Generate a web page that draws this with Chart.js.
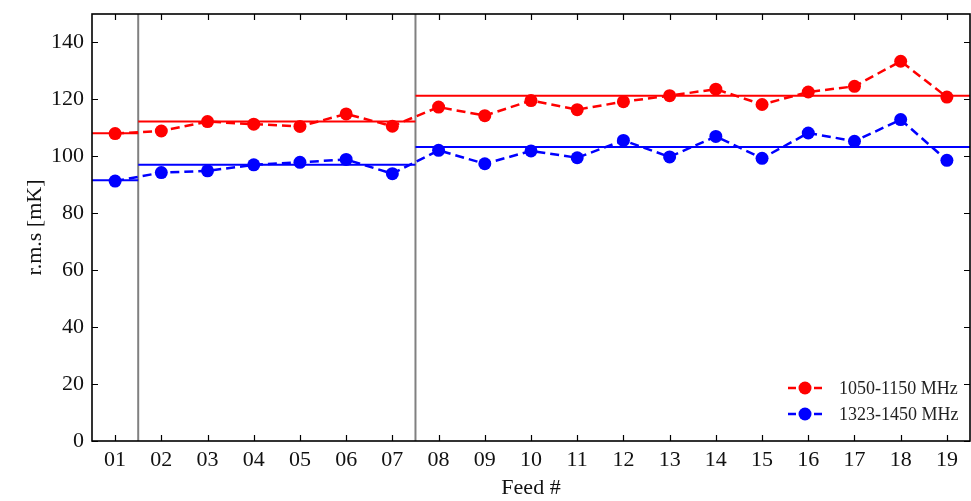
<!DOCTYPE html>
<html>
<head>
<meta charset="utf-8">
<script src="https://cdn.jsdelivr.net/npm/chart.js@4.4.0/dist/chart.umd.min.js"></script>
<style>
  html, body { margin: 0; padding: 0; background: #fff; }
  #wrap { width: 971px; height: 501px; }
</style>
</head>
<body>
<div id="wrap"><canvas id="chartCanvas" width="971" height="501"></canvas></div>
<script>
// feed labels on the x axis
const feeds = ["01","02","03","04","05","06","07","08","09","10","11","12","13","14","15","16","17","18","19"];
// r.m.s per feed [mK]
const rms1050 = [108.0, 108.9, 112.2, 111.3, 110.5, 114.9, 110.6, 117.3, 114.3, 119.6, 116.4, 119.2, 121.3, 123.6, 118.2, 122.6, 124.6, 133.4, 120.8];
const rms1323 = [91.3, 94.3, 94.9, 97.0, 97.9, 98.9, 93.9, 102.1, 97.4, 101.9, 99.5, 105.6, 99.8, 107.0, 99.3, 108.2, 105.3, 112.9, 98.6];
// feed groups (edges in feed units) and their mean levels
const groupEdges = [0.5, 1.5, 7.5, 19.5];
const level1050 = [108.1, 112.2, 121.3];
const level1323 = [91.6, 97.0, 103.3];
const yTicks = [0, 20, 40, 60, 80, 100, 120, 140];
const seriesNames = ["1050-1150 MHz", "1323-1450 MHz"];

const RED = "#ff0000", BLUE = "#0000ff", GRAY = "#808080";
const FONT = "'Liberation Serif', 'DejaVu Serif', serif";

function levelPoints(levels) {
  const pts = [];
  levels.forEach((v, i) => {
    pts.push({ x: groupEdges[i], y: v });
    pts.push({ x: groupEdges[i + 1], y: v });
    pts.push({ x: groupEdges[i + 1], y: null });
  });
  return pts;
}

function dividerPoints() {
  const pts = [];
  groupEdges.slice(1, -1).forEach(e => {
    pts.push({ x: e, y: 0 });
    pts.push({ x: e, y: 150 });
    pts.push({ x: e, y: null });
  });
  return pts;
}

// no label overflow padding, so the plot box sits where the layout says
function noPad(s) {
  s.paddingLeft = 0; s.paddingRight = 0; s.paddingTop = 0; s.paddingBottom = 0;
}

const framePlugin = {
  id: "frame",
  afterDatasetsDraw(chart) {
    const { ctx, chartArea: a, scales } = chart;
    const L = 6;
    ctx.save();
    ctx.strokeStyle = "#000";
    ctx.lineWidth = 1.2;
    ctx.beginPath();
    feeds.forEach((f, i) => {
      const x = Math.round(scales.x.getPixelForValue(i + 1)) + 0.5;
      ctx.moveTo(x, a.bottom); ctx.lineTo(x, a.bottom - L);
      ctx.moveTo(x, a.top); ctx.lineTo(x, a.top + L);
    });
    yTicks.forEach(v => {
      const y = Math.round(scales.y.getPixelForValue(v)) + 0.5;
      ctx.moveTo(a.left, y); ctx.lineTo(a.left + L, y);
      ctx.moveTo(a.right, y); ctx.lineTo(a.right - L, y);
    });
    ctx.stroke();
    ctx.lineWidth = 1.6;
    ctx.strokeRect(a.left, a.top, a.right - a.left, a.bottom - a.top);

    // legend, lower right inside the axes
    const colors = [RED, BLUE];
    seriesNames.forEach((name, i) => {
      const cx = a.right - 165, cy = a.bottom - 53 + i * 26;
      ctx.strokeStyle = colors[i];
      ctx.fillStyle = colors[i];
      ctx.lineWidth = 2.5;
      ctx.setLineDash([8, 5]);
      ctx.beginPath();
      ctx.moveTo(cx - 17, cy); ctx.lineTo(cx + 18, cy);
      ctx.stroke();
      ctx.setLineDash([]);
      ctx.beginPath();
      ctx.arc(cx, cy, 6.5, 0, Math.PI * 2);
      ctx.fill();
      ctx.fillStyle = "#222";
      ctx.font = "18px " + FONT;
      ctx.textBaseline = "middle";
      ctx.fillText(name, cx + 34, cy + 1);
    });
    ctx.restore();
  }
};

const ctx = document.getElementById("chartCanvas").getContext("2d");
new Chart(ctx, {
  type: "line",
  data: {
    datasets: [
      { label: seriesNames[0], data: rms1050.map((v, i) => ({ x: i + 1, y: v })), borderColor: RED, backgroundColor: RED,
        borderWidth: 2.5, borderDash: [9, 5], pointRadius: 6.5, pointBorderWidth: 0, pointBackgroundColor: RED, order: 1 },
      { label: seriesNames[1], data: rms1323.map((v, i) => ({ x: i + 1, y: v })), borderColor: BLUE, backgroundColor: BLUE,
        borderWidth: 2.5, borderDash: [9, 5], pointRadius: 6.5, pointBorderWidth: 0, pointBackgroundColor: BLUE, order: 2 },
      { label: "mean 1050", data: levelPoints(level1050), borderColor: RED, borderWidth: 2, pointRadius: 0, spanGaps: false, order: 3 },
      { label: "mean 1323", data: levelPoints(level1323), borderColor: BLUE, borderWidth: 2, pointRadius: 0, spanGaps: false, order: 4 },
      { label: "groups", data: dividerPoints(), borderColor: GRAY, borderWidth: 2, pointRadius: 0, spanGaps: false, order: 5 }
    ]
  },
  options: {
    responsive: false,
    animation: false,
    layout: { autoPadding: false, padding: { top: 14, right: 1, left: 0, bottom: 0 } },
    plugins: { legend: { display: false }, tooltip: { enabled: false } },
    scales: {
      x: {
        type: "linear",
        min: 0.5, max: 19.5,
        afterBuildTicks: axis => { axis.ticks = feeds.map((f, i) => ({ value: i + 1 })); },
        afterFit: s => { s.height = 60; noPad(s); },
        grid: { display: false, drawTicks: false },
        border: { display: false },
        ticks: { color: "#111", font: { family: FONT, size: 22 }, padding: 6, maxRotation: 0, autoSkip: false,
          callback: v => feeds[v - 1] },
        title: { display: true, text: "Feed #", color: "#111", font: { family: FONT, size: 22 }, padding: { top: 0, bottom: 0 } }
      },
      y: {
        min: 0, max: 150,
        afterBuildTicks: axis => { axis.ticks = yTicks.map(v => ({ value: v })); },
        afterFit: s => { s.width = 92; noPad(s); },
        grid: { display: false, drawTicks: false },
        border: { display: false },
        ticks: { color: "#111", font: { family: FONT, size: 22 }, padding: 8 },
        title: { display: true, text: "r.m.s [mK]", color: "#111", font: { family: FONT, size: 22 }, padding: { top: 22, bottom: 0 } }
      }
    }
  },
  plugins: [framePlugin]
});
</script>
</body>
</html>
